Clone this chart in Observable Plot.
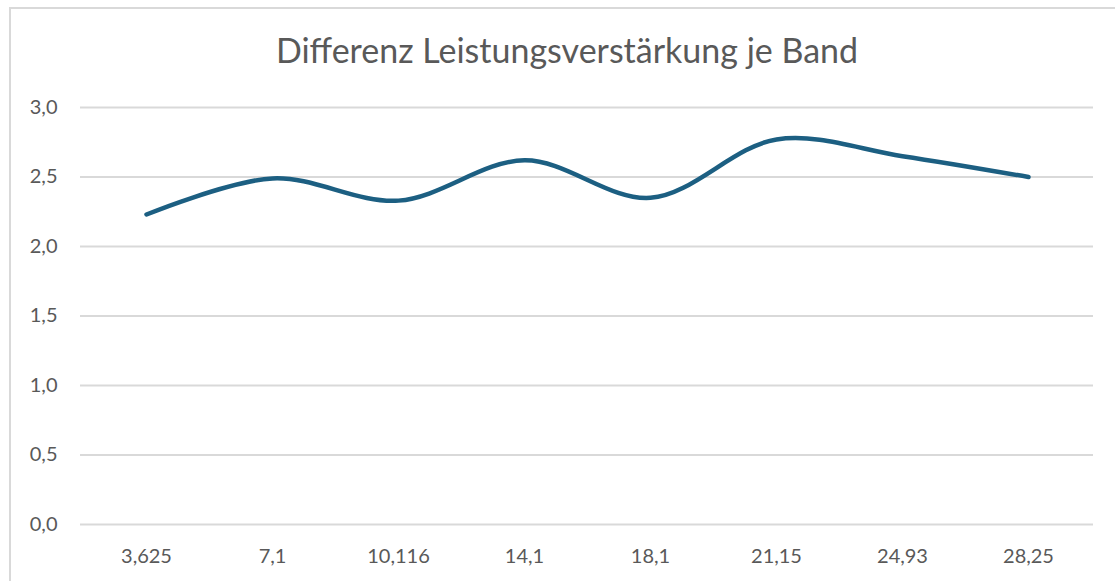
<!DOCTYPE html>
<html>
<head>
<meta charset="utf-8">
<script src="https://cdn.jsdelivr.net/npm/d3@7"></script>
<script src="https://cdn.jsdelivr.net/npm/@observablehq/plot@0.6"></script>
<style>
  html, body { margin: 0; padding: 0; background: #fff; }
  #wrap { position: relative; width: 1115px; height: 581px; overflow: hidden; background: #fff; }
  #frame { position: absolute; left: 9px; top: 7px; width: 1120px; height: 600px; border: 2px solid #d9d9d9; box-sizing: border-box; }
  #title { position: absolute; left: 0; width: 1134px; top: 30px; line-height: 40px; text-align: center; font-family: Lato, "Open Sans", sans-serif; font-size: 34px; color: #595959; }
  #chart { position: absolute; left: 0; top: 0; }
</style>
</head>
<body>
<div id="wrap">
  <div id="frame"></div>
  <div id="title">Differenz Leistungsverstärkung je Band</div>
  <div id="chart"></div>
</div>
<script>
const bands = ["3,625", "7,1", "10,116", "14,1", "18,1", "21,15", "24,93", "28,25"];
const values = [2.23, 2.49, 2.33, 2.62, 2.35, 2.77, 2.65, 2.50];
const yTicks = [0, 0.5, 1.0, 1.5, 2.0, 2.5, 3.0];

const data = bands.map((b, i) => ({band: b, value: values[i]}));
const fmt = d => d.toFixed(1).replace(".", ",");

const chart = Plot.plot({
  width: 1115,
  height: 581,
  marginLeft: 80,
  marginRight: 22,
  marginTop: 107,
  marginBottom: 57,
  style: { fontFamily: "Lato, 'Open Sans', sans-serif", fontSize: "20px", color: "#595959", background: "transparent" },
  x: { type: "point", domain: bands, padding: 0.5, label: null },
  y: { domain: [0, 3], label: null },
  marks: [
    Plot.ruleY(yTicks, { stroke: "#d9d9d9", strokeWidth: 1.8, strokeOpacity: 1 }),
    Plot.axisY(yTicks, { tickSize: 0, tickPadding: 23, tickFormat: fmt, label: null, fill: "#595959" }),
    Plot.axisX({ tickSize: 0, tickPadding: 24, label: null, fill: "#595959" }),
    Plot.line(data, { x: "band", y: "value", stroke: "#1c5f82", strokeWidth: 4.5, curve: "catmull-rom", strokeLinecap: "round", strokeLinejoin: "round" })
  ]
});
document.getElementById("chart").appendChild(chart);
</script>
</body>
</html>
